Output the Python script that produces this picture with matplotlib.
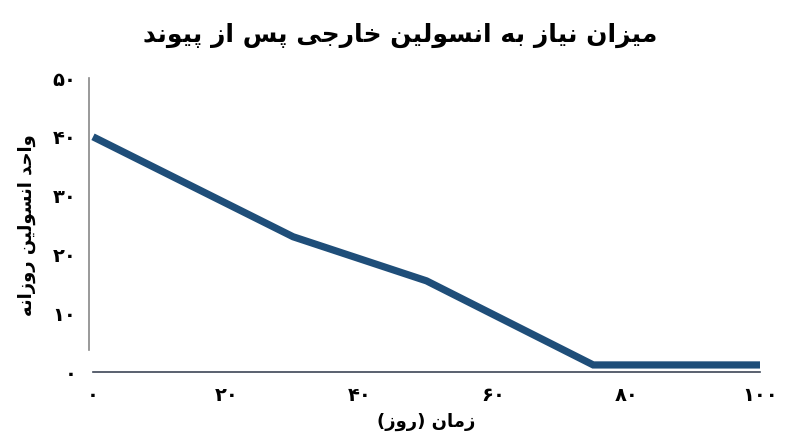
import matplotlib
matplotlib.use("Agg")
import matplotlib.pyplot as plt

# ---------------- data ----------------
days = [0, 30, 50, 75, 100]
insulin = [40, 23, 15.5, 1.2, 1.2]
x_ticks = [0, 20, 40, 60, 80, 100]
y_ticks = [0, 10, 20, 30, 40, 50]
title_text = "میزان نیاز به انسولین خارجی پس از پیوند"
xlabel_text = "زمان (روز)"
ylabel_text = "واحد انسولین روزانه"

# ---------------- simple Persian shaping ----------------
# char: (isolated, final, initial, medial); right-joining letters have None for initial/medial
FORMS = {
    'ا': ('\uFE8D', '\uFE8E', None, None),
    'ب': ('\uFE8F', '\uFE90', '\uFE91', '\uFE92'),
    'پ': ('\uFB56', '\uFB57', '\uFB58', '\uFB59'),
    'ت': ('\uFE95', '\uFE96', '\uFE97', '\uFE98'),
    'ج': ('\uFE9D', '\uFE9E', '\uFE9F', '\uFEA0'),
    'ح': ('\uFEA1', '\uFEA2', '\uFEA3', '\uFEA4'),
    'خ': ('\uFEA5', '\uFEA6', '\uFEA7', '\uFEA8'),
    'د': ('\uFEA9', '\uFEAA', None, None),
    'ر': ('\uFEAD', '\uFEAE', None, None),
    'ز': ('\uFEAF', '\uFEB0', None, None),
    'س': ('\uFEB1', '\uFEB2', '\uFEB3', '\uFEB4'),
    'ل': ('\uFEDD', '\uFEDE', '\uFEDF', '\uFEE0'),
    'م': ('\uFEE1', '\uFEE2', '\uFEE3', '\uFEE4'),
    'ن': ('\uFEE5', '\uFEE6', '\uFEE7', '\uFEE8'),
    'ه': ('\uFEE9', '\uFEEA', '\uFEEB', '\uFEEC'),
    'و': ('\uFEED', '\uFEEE', None, None),
    'ی': ('\uFBFC', '\uFBFD', '\uFBFE', '\uFBFF'),
}


def dual(c):
    return c in FORMS and FORMS[c][2] is not None


def shape(text):
    out = []
    i = 0
    n = len(text)
    while i < n:
        c = text[i]
        if c not in FORMS:
            out.append(c)
            i += 1
            continue
        prev = text[i - 1] if i > 0 else ''
        joins_prev = dual(prev)
        if c == 'ل' and i + 1 < n and text[i + 1] == 'ا':
            out.append('\uFEFC' if joins_prev else '\uFEFB')
            i += 2
            continue
        nxt = text[i + 1] if i + 1 < n else ''
        joins_next = dual(c) and nxt in FORMS
        iso, fin, ini, med = FORMS[c]
        if joins_prev and joins_next:
            out.append(med)
        elif joins_prev:
            out.append(fin)
        elif joins_next:
            out.append(ini)
        else:
            out.append(iso)
        i += 1
    vis = ''.join(reversed(out))
    vis = vis.translate(str.maketrans('()', ')('))
    return vis


def fa_digits(v):
    return str(v).translate(str.maketrans('0123456789', '۰۱۲۳۴۵۶۷۸۹'))


# ---------------- plot ----------------
plt.rcParams['font.family'] = ['DejaVu Sans']

fig = plt.figure(figsize=(8, 4.47), dpi=100)
ax = fig.add_axes([93 / 800, 75 / 447, 667 / 800, 294 / 447])

# spines first (set_position resets tick styling)
for s in ['top', 'right']:
    ax.spines[s].set_visible(False)
ax.spines['left'].set_position(('outward', 3))
ax.spines['left'].set_color('#888888')
ax.spines['left'].set_linewidth(1.2)
ax.spines['left'].set_bounds(3.8, 50)
ax.spines['bottom'].set_color('#3d4656')
ax.spines['bottom'].set_linewidth(1.2)

ax.plot(days, insulin, color='#1f4e79', linewidth=5.2, solid_joinstyle='miter',
        solid_capstyle='butt', clip_on=False)

ax.set_xlim(0, 100)
ax.set_ylim(0, 50)
ax.set_xticks(x_ticks)
ax.set_xticklabels([fa_digits(v) for v in x_ticks], fontsize=14, fontweight='bold')
ax.set_yticks(y_ticks)
ax.set_yticklabels([fa_digits(v) for v in y_ticks], fontsize=14, fontweight='bold')
ax.tick_params(axis='both', length=0)
ax.tick_params(axis='x', pad=10)
ax.tick_params(axis='y', pad=9)

ax.set_xlabel(shape(xlabel_text), fontsize=13, fontweight='bold', labelpad=6)
ax.set_ylabel(shape(ylabel_text), fontsize=13, fontweight='bold', labelpad=12)

fig.text(0.5, 0.92, shape(title_text), ha='center', va='center',
         fontsize=18, fontweight='bold')

fig.savefig('out.png', dpi=100, facecolor='white')
